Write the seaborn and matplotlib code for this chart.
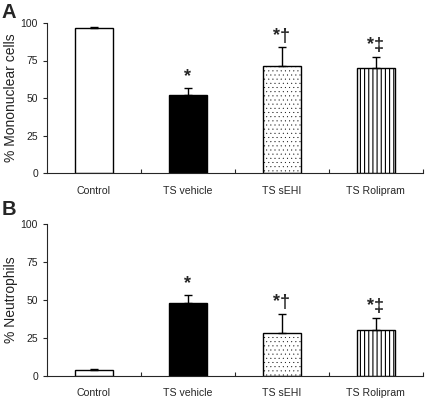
# % mononuclear cells / neutrophils per treatment group, two stacked panels
import matplotlib
matplotlib.use('Agg')
import matplotlib.pyplot as plt
import numpy as np
import seaborn as sns

groups = ['Control', 'TS vehicle', 'TS sEHI', 'TS Rolipram']
mono = [96.8, 52.2, 71.5, 69.8]
mono_err = [0.6, 4.7, 12.3, 7.7]
neut = [3.5, 48.1, 28.1, 30.3]
neut_err = [0.7, 4.9, 12.6, 7.7]
marks = ['', '*', '*\u2020', '*\u2021']
yticks = [0, 25, 50, 75, 100]

fills = ['white', 'black', 'white', 'white']
hatches = [None, None, '....', '||||']

sns.set_style('ticks')
plt.rcParams['font.family'] = ['Liberation Sans', 'DejaVu Sans']
plt.rcParams['hatch.linewidth'] = 0.8

fig = plt.figure(figsize=(4.25, 4.0), dpi=100)
ax_a = fig.add_axes([0.1106, 0.5675, 0.8844, 0.375])
ax_b = fig.add_axes([0.1106, 0.061, 0.8844, 0.379])


def panel(ax, vals, errs, ylab, letter, letter_y):
    sns.barplot(x=groups, y=vals, hue=groups, palette=fills, legend=False,
                edgecolor='black', linewidth=1.0, width=0.4, ax=ax)
    for p, h in zip(ax.patches, hatches):
        if h:
            p.set_hatch(h)
            # lighter dots for the stippled bar
            if h.startswith('.') and hasattr(p, 'set_hatch_linewidth'):
                p.set_hatch_linewidth(0.2)
    ax.errorbar(range(len(groups)), vals, yerr=[np.zeros(len(vals)), errs],
                fmt='none', ecolor='black', elinewidth=1.0, capsize=3, capthick=1.0)
    for i, (v, e, m) in enumerate(zip(vals, errs, marks)):
        if m:
            ax.annotate(m, (i, v + e), xytext=(0, 2), textcoords='offset points',
                        ha='center', va='bottom', fontsize=13, fontweight='bold')
    ax.set_xlim(-0.5, 3.5)
    ax.set_ylim(0, 100)
    ax.set_yticks(yticks)
    ax.set_xticks(range(len(groups)))
    ax.set_xticks([0.5, 1.5, 2.5, 3.5], minor=True)
    ax.tick_params(axis='x', which='major', length=0, labelsize=7.6, pad=9)
    ax.tick_params(axis='x', which='minor', direction='in', length=3, width=0.8)
    ax.tick_params(axis='y', length=3, width=0.8, labelsize=7.5, labelcolor='#222222')
    ax.set_ylabel(ylab, fontsize=10, color='#222222')
    ax.yaxis.set_label_coords(-0.078, 0.5)
    for s in ['top', 'right']:
        ax.spines[s].set_visible(False)
    for s in ['left', 'bottom']:
        ax.spines[s].set_linewidth(0.8)
    fig.text(0.004, letter_y, letter, fontsize=14.5, fontweight='bold', va='baseline')


panel(ax_a, mono, mono_err, '% Mononuclear cells', 'A', 0.955)
panel(ax_b, neut, neut_err, '% Neutrophils', 'B', 0.4625)

fig.savefig('out.png', dpi=100)
